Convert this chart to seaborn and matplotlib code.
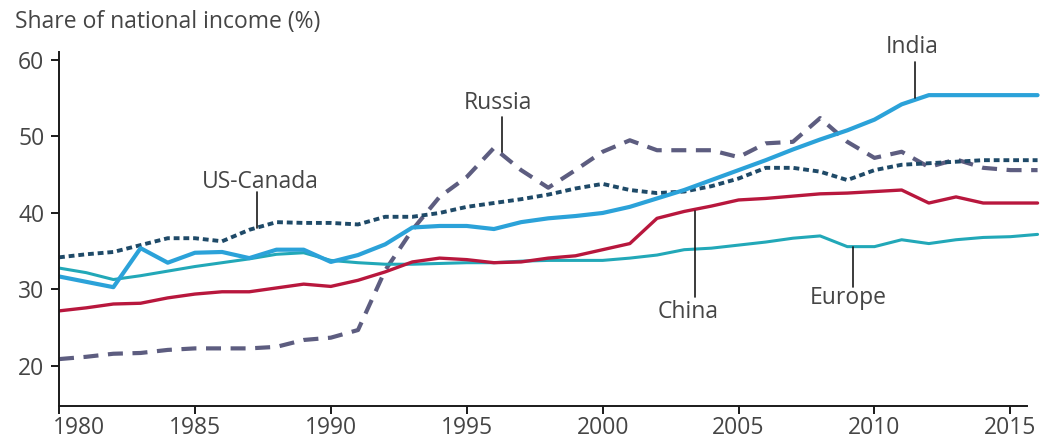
import matplotlib
matplotlib.use("Agg")
import matplotlib.pyplot as plt
import matplotlib.transforms as mtransforms
import seaborn as sns
import pandas as pd

years = list(range(1980, 2017))

us_canada = [34.2, 34.6, 34.9, 35.8, 36.7, 36.7, 36.3, 37.8, 38.8, 38.7,
             38.7, 38.5, 39.5, 39.5, 40.0, 40.8, 41.3, 41.8, 42.4, 43.2,
             43.8, 43.0, 42.6, 42.8, 43.5, 44.5, 45.9, 45.9, 45.4, 44.3,
             45.6, 46.3, 46.5, 46.7, 46.9, 46.9, 46.9]
russia = [20.9, 21.2, 21.6, 21.7, 22.1, 22.3, 22.3, 22.3, 22.5, 23.4,
          23.7, 24.7, 32.5, 37.8, 42.1, 44.7, 48.5, 45.6, 43.3, 45.6,
          48.0, 49.5, 48.2, 48.2, 48.2, 47.3, 49.1, 49.3, 52.4, 49.3,
          47.2, 48.0, 46.0, 47.0, 45.9, 45.6, 45.6]
india = [31.7, 31.0, 30.3, 35.4, 33.5, 34.8, 34.9, 34.1, 35.2, 35.2,
         33.6, 34.5, 35.9, 38.1, 38.3, 38.3, 37.9, 38.8, 39.3, 39.6,
         40.0, 40.8, 41.9, 43.0, 44.3, 45.6, 46.9, 48.3, 49.6, 50.8,
         52.2, 54.2, 55.4, 55.4, 55.4, 55.4, 55.4]
europe = [32.8, 32.2, 31.3, 31.8, 32.4, 33.0, 33.5, 34.0, 34.6, 34.8,
          33.8, 33.5, 33.3, 33.3, 33.4, 33.5, 33.5, 33.7, 33.8, 33.8,
          33.8, 34.1, 34.5, 35.2, 35.4, 35.8, 36.2, 36.7, 37.0, 35.6,
          35.6, 36.5, 36.0, 36.5, 36.8, 36.9, 37.2]
china = [27.2, 27.6, 28.1, 28.2, 28.9, 29.4, 29.7, 29.7, 30.2, 30.7,
         30.4, 31.2, 32.3, 33.6, 34.1, 33.9, 33.5, 33.6, 34.1, 34.4,
         35.2, 36.0, 39.3, 40.2, 40.9, 41.7, 41.9, 42.2, 42.5, 42.6,
         42.8, 43.0, 41.3, 42.1, 41.3, 41.3, 41.3]

y_ticks = [20, 30, 40, 50, 60]
x_ticks = [1980, 1985, 1990, 1995, 2000, 2005, 2010, 2015]

sns.set_theme(style="white")
plt.rcParams["font.family"] = ["Open Sans", "DejaVu Sans"]

text_col = "#454545"
axis_col = "#1a1a1a"
fs = 16.5

fig = plt.figure(figsize=(10.43, 4.43), dpi=100)
ax = fig.add_axes([59 / 1043, 37 / 443, 1 - 59 / 1043, (406 - 52.3) / 443])

series = [
    ("Russia", russia, "#5d5d80", 3.0, (0, (3.6, 2.3))),
    ("US-Canada", us_canada, "#1f4a68", 2.8, (0, (1.5, 1.0))),
    ("Europe", europe, "#22a8b8", 2.2, "-"),
    ("China", china, "#b8173d", 2.4, "-"),
    ("India", india, "#2ba2d9", 3.0, "-"),
]

for name, vals, col, lw, ls in series:
    df = pd.DataFrame({"year": years, "share": vals})
    sns.lineplot(data=df, x="year", y="share", ax=ax, color=col,
                 linewidth=lw, linestyle=ls)

ax.set_xlim(1980, 2016.2)
ax.set_ylim(14.77, 61)
ax.set_xticks(x_ticks)
ax.set_yticks(y_ticks)
ax.set_xlabel("")
ax.set_ylabel("")
ax.grid(False)

for s in ["top", "right"]:
    ax.spines[s].set_visible(False)
for s in ["left", "bottom"]:
    ax.spines[s].set_color(axis_col)
    ax.spines[s].set_linewidth(1.4)
ax.spines["bottom"].set_bounds(1980, 2015.6)

ax.tick_params(axis="both", direction="out", length=5.5, width=1.4,
               color=axis_col, labelsize=fs, labelcolor=text_col,
               left=True, bottom=True)
ax.tick_params(axis="x", pad=2)
ax.tick_params(axis="y", pad=5)

# first year label sits to the right of the axis corner
first = ax.get_xticklabels()[0]
first.set_horizontalalignment("left")
first.set_transform(first.get_transform() +
                    mtransforms.ScaledTranslation(-6 / 100, 0, fig.dpi_scale_trans))

# series labels with leader lines
labels = [
    ("US-Canada", 1987.3, 38.0, 42.7, 260, 182),
    ("Russia", 1996.3, 48.0, 52.5, 498, 103),
    ("India", 2011.5, 55.0, 59.7, 912, 47),
    ("China", 2003.4, 40.3, 29.0, 688, 312),
    ("Europe", 2009.2, 35.6, 30.3, 848, 298),
]
for name, xv, y0, y1, tx, ty in labels:
    ax.plot([xv, xv], [y0, y1], color=axis_col, lw=1.2, clip_on=False)
    fig.text(tx / 1043, 1 - ty / 443, name, ha="center", va="center",
             fontsize=fs, color=text_col)

fig.text(15 / 1043, 1 - 22 / 443, "Share of national income (%)",
         ha="left", va="center", fontsize=fs, color=text_col)

fig.savefig("out.png", dpi=100, facecolor="white")
